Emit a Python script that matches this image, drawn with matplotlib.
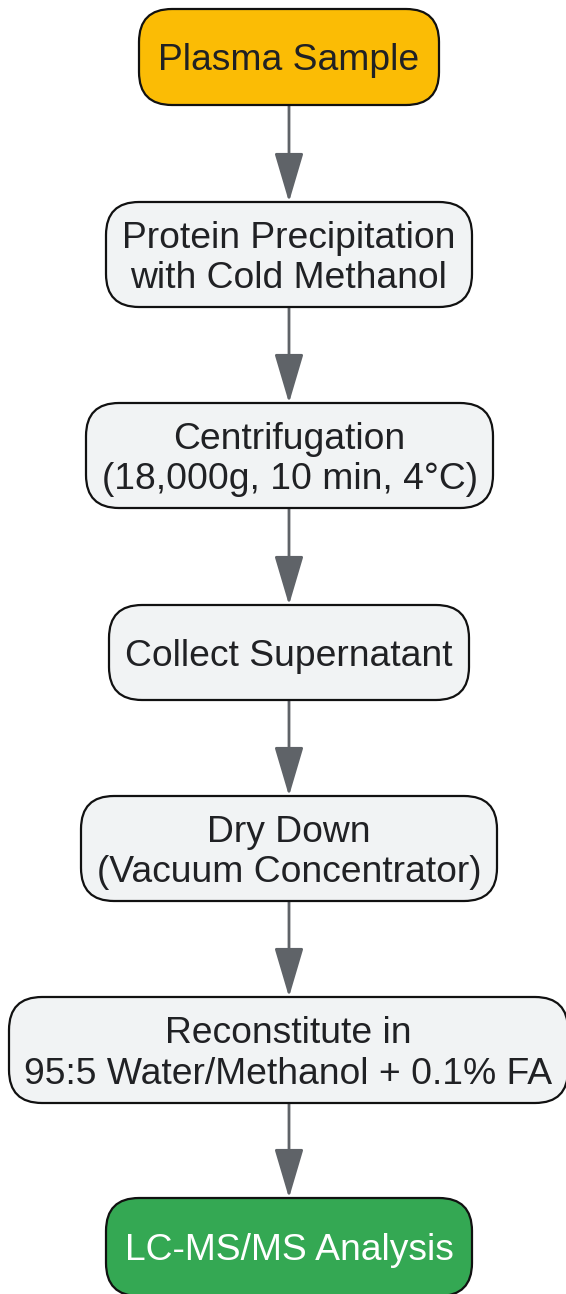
import matplotlib
matplotlib.use("Agg")
import matplotlib.pyplot as plt
from matplotlib.patches import FancyBboxPatch, FancyArrowPatch

# Data: flowchart steps
labels = [
    "Plasma Sample",
    "Protein Precipitation\nwith Cold Methanol",
    "Centrifugation\n(18,000g, 10 min, 4°C)",
    "Collect Supernatant",
    "Dry Down\n(Vacuum Concentrator)",
    "Reconstitute in\n95:5 Water/Methanol + 0.1% FA",
    "LC-MS/MS Analysis",
]
kinds = ["start", "step", "step", "step", "step", "step", "end"]

# Layout (pixel coordinates): left, right, top, bottom
boxes = [
    (139, 439, 9, 105),
    (106, 472, 202, 307),
    (86, 493, 403, 508),
    (109, 469, 605, 700),
    (81, 497, 796, 901),
    (9, 568, 997, 1103),
    (106, 472, 1198, 1296),
]
fills = {"start": "#FBBC05", "step": "#F1F3F4", "end": "#34A853"}
textc = {"start": "#202124", "step": "#202124", "end": "#FFFFFF"}

W, H = 566, 1294
fig = plt.figure(figsize=(W / 100, H / 100), dpi=100)
ax = fig.add_axes([0, 0, 1, 1])
ax.set_xlim(0, W)
ax.set_ylim(H, 0)
ax.axis("off")

cx = 289
for (l, r, t, b), lab, k in zip(boxes, labels, kinds):
    p = FancyBboxPatch((l, t), r - l, b - t,
                       boxstyle="round,pad=0,rounding_size=33",
                       facecolor=fills[k], edgecolor="#111111", linewidth=1.6,
                       zorder=2)
    ax.add_patch(p)
    ax.text((l + r) / 2, (t + b) / 2 + 4, lab, ha="center", va="center",
            fontsize=26.8, color=textc[k],
            family=["Liberation Sans", "DejaVu Sans"],
            linespacing=1.2, zorder=3)

for i in range(len(boxes) - 1):
    y0 = boxes[i][3]
    y1 = boxes[i + 1][2]
    ax.add_patch(FancyArrowPatch((cx, y0), (cx, y1),
                                 arrowstyle="-|>,head_length=2.2,head_width=0.65",
                                 mutation_scale=14, color="#5F6368",
                                 linewidth=2, shrinkA=0, shrinkB=0, zorder=1))

fig.savefig("out.png", dpi=100)
